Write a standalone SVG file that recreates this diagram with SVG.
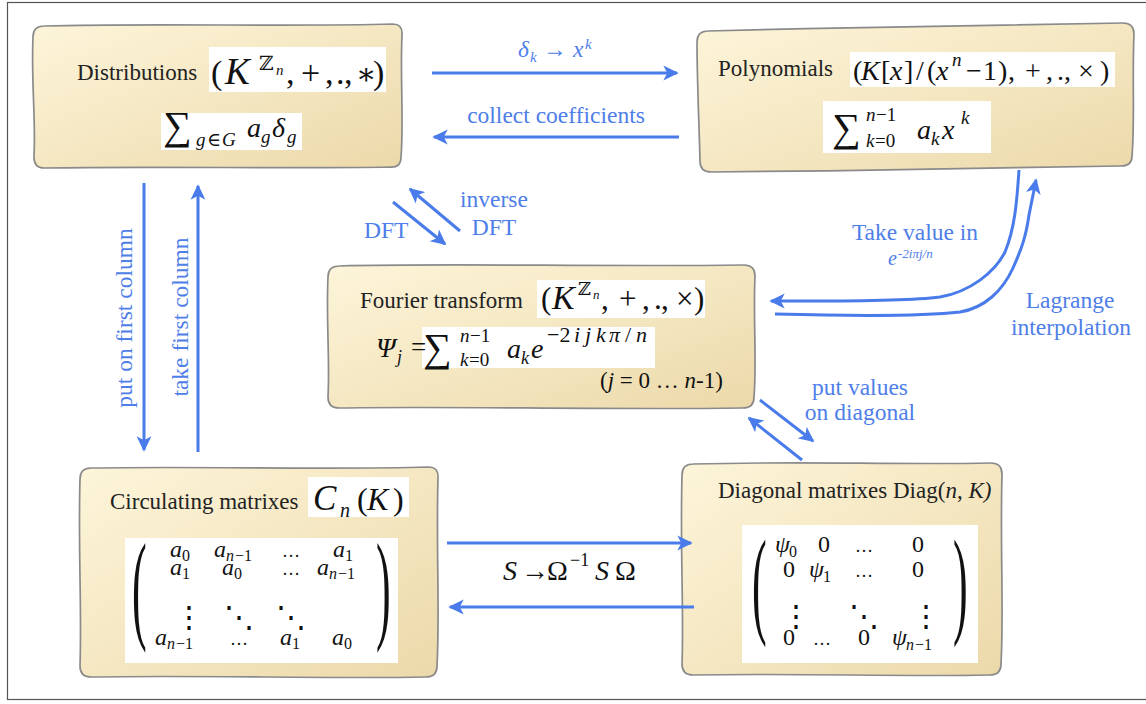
<svg xmlns="http://www.w3.org/2000/svg" width="1146" height="704" viewBox="0 0 1146 704" font-family="Liberation Serif, Times New Roman, DejaVu Serif, serif">
<defs>
<linearGradient id="g" x1="0" y1="0" x2="1" y2="1">
<stop offset="0" stop-color="#fdf5da"/>
<stop offset="1" stop-color="#ecd9aa"/>
</linearGradient>
<marker id="ah" markerUnits="userSpaceOnUse" markerWidth="16" markerHeight="16" viewBox="0 0 14 14" refX="12" refY="7" orient="auto">
<path d="M0,0.5 L13.5,7 L0,13.5 L3.5,7 Z" fill="#4a7bea"/>
</marker>
<style>
.box{fill:url(#g);stroke:#8a8a8a;stroke-width:1.7}
.wb{fill:#ffffff}
.t{font-family:Liberation Serif,DejaVu Serif,serif;font-size:23px;fill:#222}
.m{font-family:Liberation Serif,DejaVu Serif,serif;fill:#111}
.i{font-style:italic}
.b{font-family:Liberation Serif,DejaVu Serif,serif;font-size:23.5px;fill:#4e7ee8}
.ar{stroke:#4a7bea;stroke-width:3;fill:none;marker-end:url(#ah)}
.par{font-family:Liberation Serif,DejaVu Serif,serif;font-size:44px;fill:#111}
</style>
</defs>
<rect x="0" y="0" width="1146" height="704" fill="#ffffff"/>
<rect x="7.5" y="2.5" width="1150" height="697" fill="none" stroke="#555" stroke-width="1.2"/>

<g id="distributions">
<path class="box" d="M44,26 C150,23 300,27 392,24 Q403,24 402,35 C400,80 404,120 401,157 Q401,168 390,167 C300,169 150,166 44,168 Q34,168 34,157 C36,120 31,80 33,37 Q33,26 44,26 Z"/>
<text class="t" x="77" y="80">Distributions</text>
<rect class="wb" x="209" y="47" width="177" height="45"/>
<text class="m" font-size="34" y="84"><tspan x="211">(</tspan><tspan x="225" font-size="37" class="i">K</tspan><tspan x="259" y="70" font-size="20">ℤ</tspan><tspan x="276" y="75" font-size="15" class="i">n</tspan><tspan x="286" y="84">,</tspan><tspan x="301">+</tspan><tspan x="325">,</tspan><tspan x="336">.</tspan><tspan x="344">,</tspan><tspan x="356" font-size="30">∗</tspan><tspan x="373">)</tspan></text>
<rect class="wb" x="161" y="113" width="141" height="37"/>
<text class="m" y="139"><tspan x="163" font-size="40">∑</tspan><tspan x="196" y="146" font-size="19" class="i">g</tspan><tspan x="207" y="146" font-size="19">∈</tspan><tspan x="222" y="146" font-size="19" class="i">G</tspan><tspan x="247" y="137" font-size="28" class="i">a</tspan><tspan x="261" y="143" font-size="19" class="i">g</tspan><tspan x="272" y="137" font-size="28" class="i">δ</tspan><tspan x="287" y="143" font-size="19" class="i">g</tspan></text>
</g>

<g id="polynomials">
<path class="box" d="M708,31 C850,27 1000,26 1123,23 Q1134,23 1134,34 C1132,80 1135,120 1132,156 Q1132,166 1121,166 C1000,168 850,171 711,172 Q700,172 700,161 C699,120 697,80 697,42 Q697,31 708,31 Z"/>
<text class="t" x="718" y="76">Polynomials</text>
<rect class="wb" x="850" y="52" width="265" height="35"/>
<text class="m" font-size="28" y="80"><tspan x="853">(</tspan><tspan x="861" class="i">K</tspan><tspan x="881">[</tspan><tspan x="890" class="i">x</tspan><tspan x="904">]</tspan><tspan x="916">/</tspan><tspan x="927">(</tspan><tspan x="936" class="i">x</tspan><tspan x="952" y="66" font-size="19" class="i">n</tspan><tspan x="966" y="80">−</tspan><tspan x="983">1</tspan><tspan x="998">)</tspan><tspan x="1008">,</tspan><tspan x="1025">+</tspan><tspan x="1046">,</tspan><tspan x="1057">.</tspan><tspan x="1064">,</tspan><tspan x="1078">×</tspan><tspan x="1100">)</tspan></text>
<rect class="wb" x="823" y="101" width="168" height="52"/>
<text class="m" y="141"><tspan x="832" font-size="40">∑</tspan><tspan x="866" y="121" font-size="19" class="i">n</tspan><tspan x="876" y="121" font-size="19">−1</tspan><tspan x="866" y="147" font-size="19" class="i">k</tspan><tspan x="875" y="147" font-size="19">=0</tspan><tspan x="917" y="139" font-size="28" class="i">a</tspan><tspan x="931" y="145" font-size="19" class="i">k</tspan><tspan x="942" y="139" font-size="28" class="i">x</tspan><tspan x="961" y="124" font-size="19" class="i">k</tspan></text>
</g>

<g id="fourier">
<path class="box" d="M339,266 C450,263 600,267 744,265 Q755,265 755,276 C753,320 757,360 754,397 Q754,408 743,408 C600,410 450,406 339,408 Q328,408 328,397 C330,360 326,320 328,277 Q328,266 339,266 Z"/>
<text class="t" x="360" y="308">Fourier transform</text>
<rect class="wb" x="537" y="280" width="168" height="38"/>
<text class="m" font-size="31" y="309"><tspan x="541">(</tspan><tspan x="552" font-size="34" class="i">K</tspan><tspan x="578" y="295" font-size="18">ℤ</tspan><tspan x="593" y="299" font-size="13" class="i">n</tspan><tspan x="601" y="309">,</tspan><tspan x="619">+</tspan><tspan x="642">,</tspan><tspan x="654">.</tspan><tspan x="661">,</tspan><tspan x="676">×</tspan><tspan x="694">)</tspan></text>
<rect class="wb" x="422" y="327" width="233" height="41"/>
<text class="m" y="357"><tspan x="376" font-size="28" class="i">Ψ</tspan><tspan x="397" y="363" font-size="18" class="i">j</tspan><tspan x="411" y="356" font-size="27">=</tspan><tspan x="423" y="361" font-size="40">∑</tspan><tspan x="460" y="342" font-size="19" class="i">n</tspan><tspan x="470" y="342" font-size="19">−1</tspan><tspan x="460" y="366" font-size="19" class="i">k</tspan><tspan x="469" y="366" font-size="19">=0</tspan><tspan x="507" y="358" font-size="28" class="i">a</tspan><tspan x="521" y="364" font-size="18" class="i">k</tspan><tspan x="531" y="358" font-size="28" class="i">e</tspan><tspan x="547" y="342" font-size="22">−2</tspan><tspan x="574" y="342" font-size="22" class="i">i</tspan><tspan x="585" y="342" font-size="22" class="i">j</tspan><tspan x="596" y="342" font-size="22" class="i">k</tspan><tspan x="609" y="342" font-size="22" class="i">π</tspan><tspan x="625" y="342" font-size="22">/</tspan><tspan x="636" y="342" font-size="22" class="i">n</tspan></text>
<text class="m" font-size="23" x="600" y="388">(<tspan class="i">j</tspan> = 0 … <tspan class="i">n</tspan>-1)</text>
</g>

<g id="circulating">
<path class="box" d="M91,468 C200,466 330,470 428,467 Q439,467 438,478 C436,550 440,610 437,666 Q437,677 426,677 C330,679 200,675 91,677 Q80,677 80,666 C82,610 78,550 80,479 Q80,468 91,468 Z"/>
<text class="t" x="110" y="509">Circulating matrixes</text>
<rect class="wb" x="308" y="477" width="101" height="40"/>
<text class="m" font-size="32" y="510"><tspan x="313" font-size="35" class="i">C</tspan><tspan x="340" y="517" font-size="20" class="i">n</tspan><tspan x="357" y="510">(</tspan><tspan x="367" class="i">K</tspan><tspan x="393">)</tspan></text>
<rect class="wb" x="125" y="538" width="273" height="125"/>
<text class="par" transform="matrix(1,0,0,2.75,132,627)">(</text>
<text class="par" transform="matrix(1,0,0,2.75,376,627)">)</text>
<text class="m" font-size="24">
<tspan x="170" y="557" class="i">a</tspan><tspan x="182" y="561" font-size="16">0</tspan>
<tspan x="214" y="557" class="i">a</tspan><tspan x="226" y="561" font-size="16" class="i">n</tspan><tspan x="235" y="561" font-size="16">−1</tspan>
<tspan x="282" y="557" font-size="18">…</tspan>
<tspan x="333" y="557" class="i">a</tspan><tspan x="345" y="561" font-size="16">1</tspan>
<tspan x="170" y="575" class="i">a</tspan><tspan x="182" y="579" font-size="16">1</tspan>
<tspan x="222" y="575" class="i">a</tspan><tspan x="234" y="579" font-size="16">0</tspan>
<tspan x="282" y="575" font-size="18">…</tspan>
<tspan x="317" y="575" class="i">a</tspan><tspan x="329" y="579" font-size="16" class="i">n</tspan><tspan x="338" y="579" font-size="16">−1</tspan>
<tspan x="155" y="645" class="i">a</tspan><tspan x="167" y="649" font-size="16" class="i">n</tspan><tspan x="176" y="649" font-size="16">−1</tspan>
<tspan x="230" y="645" font-size="18">…</tspan>
<tspan x="280" y="645" class="i">a</tspan><tspan x="292" y="649" font-size="16">1</tspan>
<tspan x="332" y="645" class="i">a</tspan><tspan x="344" y="649" font-size="16">0</tspan>
</text>
<text class="m" font-size="30"><tspan x="174" y="627">⋮</tspan><tspan x="224" y="627">⋱</tspan><tspan x="276" y="627">⋱</tspan></text>
</g>

<g id="diagonal">
<path class="box" d="M693,464 C800,461 900,465 991,463 Q1002,463 1002,474 C1000,550 1004,610 1001,664 Q1001,675 990,675 C900,677 800,673 693,675 Q682,675 682,664 C684,610 680,550 682,475 Q682,464 693,464 Z"/>
<text class="t" x="718" y="498">Diagonal matrixes Diag(<tspan class="i">n</tspan>, <tspan class="i">K)</tspan></text>
<rect class="wb" x="742" y="525" width="236" height="138"/>
<text class="par" transform="matrix(1,0,0,2.7,752,622)">(</text>
<text class="par" transform="matrix(1,0,0,2.7,953,622)">)</text>
<text class="m" font-size="24">
<tspan x="775" y="552" class="i">ψ</tspan><tspan x="789" y="557" font-size="16">0</tspan>
<tspan x="818" y="552">0</tspan><tspan x="855" y="552" font-size="18">…</tspan><tspan x="912" y="552">0</tspan>
<tspan x="783" y="577">0</tspan><tspan x="809" y="577" class="i">ψ</tspan><tspan x="823" y="582" font-size="16">1</tspan>
<tspan x="855" y="577" font-size="18">…</tspan><tspan x="912" y="577">0</tspan>
<tspan x="783" y="645">0</tspan><tspan x="813" y="645" font-size="18">…</tspan><tspan x="858" y="645">0</tspan>
<tspan x="892" y="645" class="i">ψ</tspan><tspan x="906" y="650" font-size="16" class="i">n</tspan><tspan x="915" y="650" font-size="16">−1</tspan>
</text>
<text class="m" font-size="30"><tspan x="781" y="626">⋮</tspan><tspan x="849" y="626">⋱</tspan><tspan x="911" y="626">⋮</tspan></text>
</g>

<g id="connectors">
<path class="ar" d="M432,73 L677,73"/>
<path class="ar" d="M679,137 L434,137"/>
<path class="ar" d="M144,183 L144,450"/>
<path class="ar" d="M198,452 L198,186"/>
<path class="ar" d="M393,202 L445,244"/>
<path class="ar" d="M460,231 L410,189"/>
<path class="ar" d="M1019,170 C1017,200 1015,228 1005,252 C995,272 970,292 940,297 C900,302 820,301 771,301"/>
<path class="ar" d="M775,314 C850,316 925,316 960,312 C985,308 1003,290 1013,268 C1022,248 1026,236 1029,215 L1036,180"/>
<path class="ar" d="M760,400 L813,441"/>
<path class="ar" d="M802,460 L749,418"/>
<path class="ar" d="M447,543 L691,543"/>
<path class="ar" d="M694,607 L450,607"/>
</g>

<g id="labels">
<text class="b" y="57"><tspan x="518" class="i">δ</tspan><tspan x="530" y="62" font-size="15" class="i">k</tspan><tspan x="543" y="57">→</tspan><tspan x="573" class="i">x</tspan><tspan x="585" y="49" font-size="15" class="i">k</tspan></text>
<text class="b" x="556" y="123" text-anchor="middle">collect coefficients</text>
<text class="b" transform="translate(132,318) rotate(-90)" text-anchor="middle">put on first column</text>
<text class="b" transform="translate(188,317) rotate(-90)" text-anchor="middle">take first column</text>
<text class="b" x="364" y="238">DFT</text>
<text class="b" x="494" y="207" text-anchor="middle">inverse</text>
<text class="b" x="494" y="235" text-anchor="middle">DFT</text>
<text class="b" x="915" y="240" text-anchor="middle">Take value in</text>
<text class="b" y="265"><tspan x="888" font-size="20" class="i">e</tspan><tspan x="898" y="258" font-size="13" class="i">-2iπj/n</tspan></text>
<text class="b" x="1070" y="308" text-anchor="middle">Lagrange</text>
<text class="b" x="1071" y="335" text-anchor="middle">interpolation</text>
<text class="b" x="860" y="395" text-anchor="middle">put values</text>
<text class="b" x="860" y="420" text-anchor="middle">on diagonal</text>
<text class="m" font-size="28" y="580"><tspan x="503" class="i">S</tspan><tspan x="521">→</tspan><tspan x="547">Ω</tspan><tspan x="570" y="566" font-size="18">−1</tspan><tspan x="595" y="580" class="i">S</tspan><tspan x="615">Ω</tspan></text>
</g>
</svg>
